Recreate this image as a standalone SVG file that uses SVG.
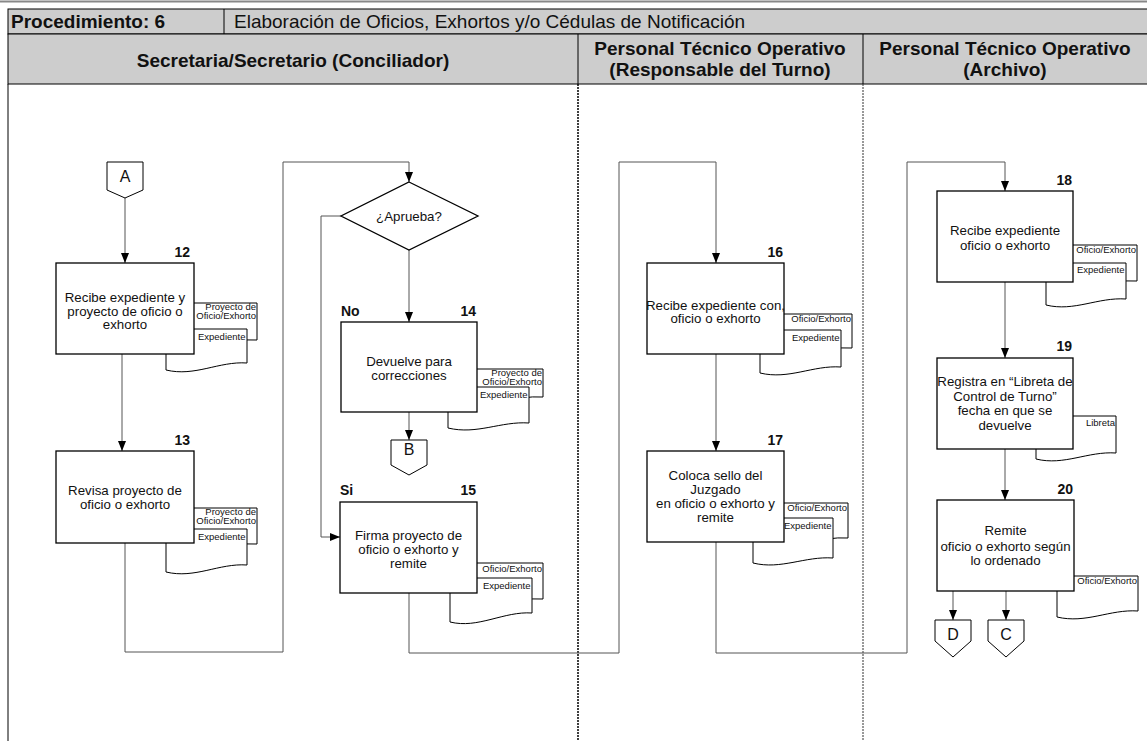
<svg xmlns="http://www.w3.org/2000/svg" width="1147" height="741" viewBox="0 0 1147 741">
<style>
.hdr{fill:#cdcdcd;stroke:#000;stroke-width:1}
.ht{font-family:"Liberation Sans",Arial,sans-serif;font-size:19px;fill:#111}
.hb{font-weight:bold;text-anchor:middle}
.box{fill:#fff;stroke:#000;stroke-width:1.3}
.doc{fill:#fff;stroke:#000;stroke-width:1}
.t{font-family:"Liberation Sans",Arial,sans-serif;font-size:13.3px;fill:#111;text-anchor:middle}
.n{font-family:"Liberation Sans",Arial,sans-serif;font-size:14px;font-weight:bold;fill:#111}
.d{font-family:"Liberation Sans",Arial,sans-serif;font-size:9.5px;fill:#111;text-anchor:end}
.c{font-family:"Liberation Sans",Arial,sans-serif;font-size:16px;fill:#111;text-anchor:middle}
.ln{fill:none;stroke:#555;stroke-width:1}
</style>
<defs>
<marker id="ar" markerUnits="userSpaceOnUse" markerWidth="10" markerHeight="8" viewBox="0 0 10 8" refX="10" refY="4" orient="auto">
<path d="M0,0 L10,4 L0,8 Z" fill="#000"/>
</marker>
</defs>
<rect width="1147" height="741" fill="#fff"/>
<g id="header">
<line x1="0" y1="1.5" x2="1147" y2="1.5" stroke="#888" stroke-width="2"/>
<rect class="hdr" x="8" y="9" width="1145" height="25"/>
<rect class="hdr" x="8" y="34" width="1145" height="50"/>
<line x1="224" y1="9" x2="224" y2="34" stroke="#000"/>
<line x1="578" y1="34" x2="578" y2="84" stroke="#000"/>
<line x1="863" y1="34" x2="863" y2="84" stroke="#000"/>
<text class="ht" x="11" y="28" font-weight="bold" font-size="18.5">Procedimiento: 6</text>
<text class="ht" x="234" y="28" font-size="19.3">Elaboración de Oficios, Exhortos y/o Cédulas de Notificación</text>
<text class="ht hb" x="293" y="66.5">Secretaria/Secretario (Conciliador)</text>
<text class="ht hb" x="720" y="55">Personal Técnico Operativo</text>
<text class="ht hb" x="720" y="76">(Responsable del Turno)</text>
<text class="ht hb" x="1005" y="55">Personal Técnico Operativo</text>
<text class="ht hb" x="1005" y="76">(Archivo)</text>
</g>
<g id="lanes">
<line x1="8" y1="84" x2="8" y2="741" stroke="#000" stroke-width="1"/>
<line x1="578" y1="84" x2="578" y2="741" stroke="#000" stroke-width="1.5" stroke-dasharray="2,1"/>
<line x1="863" y1="84" x2="863" y2="741" stroke="#333" stroke-width="1" stroke-dasharray="2,1"/>
</g>
<g id="connectors">
<path class="ln" d="M125,198 V263" marker-end="url(#ar)"/>
<path class="ln" d="M122,354 V451" marker-end="url(#ar)"/>
<path class="ln" d="M125,543 V652 H283 V162 H409 V182" marker-end="url(#ar)"/>
<path class="ln" d="M409,250 V322" marker-end="url(#ar)"/>
<path class="ln" d="M409,412 V440" marker-end="url(#ar)"/>
<path class="ln" d="M341,216 H321 V537 H340" marker-end="url(#ar)"/>
<path class="ln" d="M409,593 V653 H619 V162 H716 V263" marker-end="url(#ar)"/>
<path class="ln" d="M716,354 V451" marker-end="url(#ar)"/>
<path class="ln" d="M716,542 V653 H907 V162 H1005 V191" marker-end="url(#ar)"/>
<path class="ln" d="M1005,282 V358" marker-end="url(#ar)"/>
<path class="ln" d="M1005,449 V500" marker-end="url(#ar)"/>
<path class="ln" d="M953,591 V620" marker-end="url(#ar)"/>
<path class="ln" d="M1006,591 V620" marker-end="url(#ar)"/>
</g>
<g id="conA">
<path class="doc" d="M107,162 H143 V190 L125,198 L107,190 Z"/>
<text class="c" x="125" y="182">A</text>
</g>
<g id="node12">
<path class="doc" d="M176,303 H257 V340 C230,338 200,352 176,349 Z"/>
<path class="doc" d="M166,329 H247 V363 C219,361 195,377 166,370 Z"/>
<rect class="box" x="56" y="263" width="138" height="91"/>
<text class="n" x="190" y="257" text-anchor="end">12</text>
<text class="t" x="125" y="301.5">Recibe expediente y</text>
<text class="t" x="125" y="315.5">proyecto de oficio o</text>
<text class="t" x="125" y="329">exhorto</text>
<text class="d" x="256" y="310">Proyecto de</text>
<text class="d" x="256" y="319">Oficio/Exhorto</text>
<text class="d" x="245.5" y="339.5">Expediente</text>
</g>
<g id="node13">
<path class="doc" d="M176,508 H257 V544 C230,542 200,556 176,553 Z"/>
<path class="doc" d="M166,529 H247 V565 C219,563 195,579 166,572 Z"/>
<rect class="box" x="56" y="451" width="138" height="92"/>
<text class="n" x="190" y="445" text-anchor="end">13</text>
<text class="t" x="125" y="494.5">Revisa proyecto de</text>
<text class="t" x="125" y="508.5">oficio o exhorto</text>
<text class="d" x="256" y="515">Proyecto de</text>
<text class="d" x="256" y="524">Oficio/Exhorto</text>
<text class="d" x="245.5" y="539.5">Expediente</text>
</g>
<g id="decision">
<path class="box" d="M409,182 L478,216 L409,250 L341,216 Z"/>
<text class="t" x="409" y="220.5">¿Aprueba?</text>
</g>
<g id="node14">
<path class="doc" d="M458,369 H543 V397 C515,395 485,409 458,406 Z"/>
<path class="doc" d="M448,387 H529 V423 C501,421 477,435 448,428 Z"/>
<rect class="box" x="341" y="322" width="136" height="90"/>
<text class="n" x="341" y="316">No</text>
<text class="n" x="476" y="316" text-anchor="end">14</text>
<text class="t" x="409" y="365.5">Devuelve para</text>
<text class="t" x="409" y="379.5">correcciones</text>
<text class="d" x="542" y="376">Proyecto de</text>
<text class="d" x="542" y="385">Oficio/Exhorto</text>
<text class="d" x="527.5" y="397.5">Expediente</text>
</g>
<g id="conB">
<path class="doc" d="M391,440 H427 V465 L409,475 L391,465 Z"/>
<text class="c" x="409" y="455">B</text>
</g>
<g id="node15">
<path class="doc" d="M460,563 H543 V599 C515,597 485,611 460,608 Z"/>
<path class="doc" d="M450,578 H532 V613 C504,611 478,629 450,622 Z"/>
<rect class="box" x="340" y="502" width="137" height="91"/>
<text class="n" x="340" y="495">Si</text>
<text class="n" x="476" y="495" text-anchor="end">15</text>
<text class="t" x="408.5" y="539.5">Firma proyecto de</text>
<text class="t" x="408.5" y="553.5">oficio o exhorto y</text>
<text class="t" x="408.5" y="567.5">remite</text>
<text class="d" x="542" y="572">Oficio/Exhorto</text>
<text class="d" x="530.5" y="588.5">Expediente</text>
</g>
<g id="node16">
<path class="doc" d="M770,314 H852 V348 C825,346 795,360 770,357 Z"/>
<path class="doc" d="M760,330 H841 V367 C813,365 789,380 760,373 Z"/>
<rect class="box" x="647" y="263" width="137" height="91"/>
<text class="n" x="783" y="257" text-anchor="end">16</text>
<text class="t" x="715.5" y="309.5">Recibe expediente con,</text>
<text class="t" x="715.5" y="322.5">oficio o exhorto</text>
<text class="d" x="851" y="322">Oficio/Exhorto</text>
<text class="d" x="839.5" y="341">Expediente</text>
</g>
<g id="node17">
<path class="doc" d="M763,503 H848 V538 C821,536 791,550 763,547 Z"/>
<path class="doc" d="M753,518 H833 V558 C805,556 781,570 753,563 Z"/>
<rect class="box" x="647" y="451" width="137" height="91"/>
<text class="n" x="783" y="445" text-anchor="end">17</text>
<text class="t" x="715.5" y="479.5">Coloca sello del</text>
<text class="t" x="715.5" y="493.5">Juzgado</text>
<text class="t" x="715.5" y="507.5">en oficio o exhorto y</text>
<text class="t" x="715.5" y="521.5">remite</text>
<text class="d" x="847" y="511">Oficio/Exhorto</text>
<text class="d" x="831.5" y="529">Expediente</text>
</g>
<g id="conD">
<path class="doc" d="M935,620 H971 V641 L953,657 L935,641 Z"/>
<text class="c" x="953" y="640">D</text>
</g>
<g id="conC">
<path class="doc" d="M988,620 H1024 V641 L1006,657 L988,641 Z"/>
<text class="c" x="1006" y="640">C</text>
</g>
<g id="node18">
<path class="doc" d="M1056,245 H1137 V281 C1110,279 1080,293 1056,290 Z"/>
<path class="doc" d="M1046,263 H1126 V299 C1098,297 1074,312 1046,305 Z"/>
<rect class="box" x="937" y="191" width="136" height="91"/>
<text class="n" x="1072" y="185" text-anchor="end">18</text>
<text class="t" x="1005" y="235">Recibe expediente</text>
<text class="t" x="1005" y="249.5">oficio o exhorto</text>
<text class="d" x="1136" y="253">Oficio/Exhorto</text>
<text class="d" x="1124.5" y="273">Expediente</text>
</g>
<g id="node19">
<path class="doc" d="M1036,416 H1116 V453 C1088,451 1064,466 1036,459 Z"/>
<rect class="box" x="937" y="358" width="136" height="91"/>
<text class="n" x="1072" y="351" text-anchor="end">19</text>
<text class="t" x="1005" y="386">Registra en “Libreta de</text>
<text class="t" x="1005" y="400.5">Control de Turno”</text>
<text class="t" x="1005" y="415">fecha en que se</text>
<text class="t" x="1005" y="430">devuelve</text>
<text class="d" x="1115" y="426">Libreta</text>
</g>
<g id="node20">
<path class="doc" d="M1057,576 H1138 V611 C1110,609 1086,624 1057,617 Z"/>
<rect class="box" x="937" y="500" width="137" height="91"/>
<text class="n" x="1073" y="494" text-anchor="end">20</text>
<text class="t" x="1005.5" y="535">Remite</text>
<text class="t" x="1005.5" y="550.5">oficio o exhorto según</text>
<text class="t" x="1005.5" y="565">lo ordenado</text>
<text class="d" x="1137" y="583.5">Oficio/Exhorto</text>
</g>
</svg>
